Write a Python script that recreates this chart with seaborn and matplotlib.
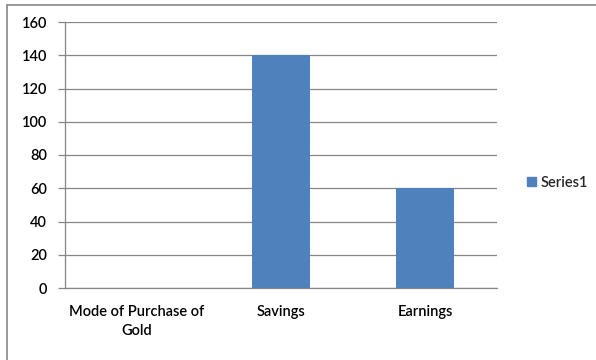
import matplotlib
matplotlib.use("Agg")
import matplotlib.pyplot as plt
import seaborn as sns
import pandas as pd
from matplotlib.patches import Patch
from matplotlib.lines import Line2D

categories = ["Mode of Purchase of\nGold", "Savings", "Earnings"]
values = [0, 140, 60]
series_name = "Series1"
y_ticks = [0, 20, 40, 60, 80, 100, 120, 140, 160]

bar_color = "#4F81BD"
grid_color = "#868686"

sns.set_theme(style="white")
plt.rcParams["font.family"] = ["Lato", "DejaVu Sans"]

df = pd.DataFrame({"category": categories, "value": values})

fig = plt.figure(figsize=(5.96, 3.6), dpi=100)
ax = fig.add_axes([65 / 596, 72 / 360, 432 / 596, 266 / 360])

sns.barplot(data=df, x="category", y="value", color=bar_color, width=0.4,
            saturation=1, linewidth=0, ax=ax, zorder=3)

ax.set_xlim(-0.5, len(categories) - 0.5)
ax.set_ylim(0, 160)
ax.set_yticks(y_ticks)
ax.set_yticklabels([str(t) for t in y_ticks], fontsize=10.5, fontweight="semibold",
                   color="#000000")
ax.yaxis.grid(True, color=grid_color, linewidth=0.9, zorder=0)
ax.set_axisbelow(True)
ax.set_xlabel("")
ax.set_ylabel("")

# category ticks sit on the boundaries
ax.set_xticks([i - 0.5 for i in range(len(categories) + 1)])
ax.set_xticklabels([])
ax.set_xticks(range(len(categories)), minor=True)
ax.set_xticklabels(categories, minor=True, fontsize=10.5, fontweight="semibold",
                   color="#000000", linespacing=1.45)
ax.tick_params(axis="x", which="minor", length=0, pad=12)
ax.tick_params(axis="x", which="major", length=5, color=grid_color, width=0.9)
ax.tick_params(axis="y", length=5, color=grid_color, width=0.9, left=True, pad=8)

for side in ["top", "right"]:
    ax.spines[side].set_visible(False)
for side in ["left", "bottom"]:
    ax.spines[side].set_color(grid_color)
    ax.spines[side].set_linewidth(0.9)

handles = [Patch(facecolor=bar_color, edgecolor=bar_color, label=series_name)]
fig.legend(handles=handles, loc="center left", bbox_to_anchor=(514 / 596, 1 - 183 / 360),
           frameon=False, prop={"size": 10.5, "weight": "semibold"},
           handlelength=0.6, handleheight=0.6, handletextpad=0.3)

# outer chart frame
fig.add_artist(Line2D([7 / 596, 7 / 596], [0, 1 - 5 / 360], transform=fig.transFigure,
                      color=grid_color, linewidth=1.2))
fig.add_artist(Line2D([7 / 596, 1], [1 - 5 / 360, 1 - 5 / 360], transform=fig.transFigure,
                      color=grid_color, linewidth=1.2))

fig.savefig("out.png", dpi=100)
